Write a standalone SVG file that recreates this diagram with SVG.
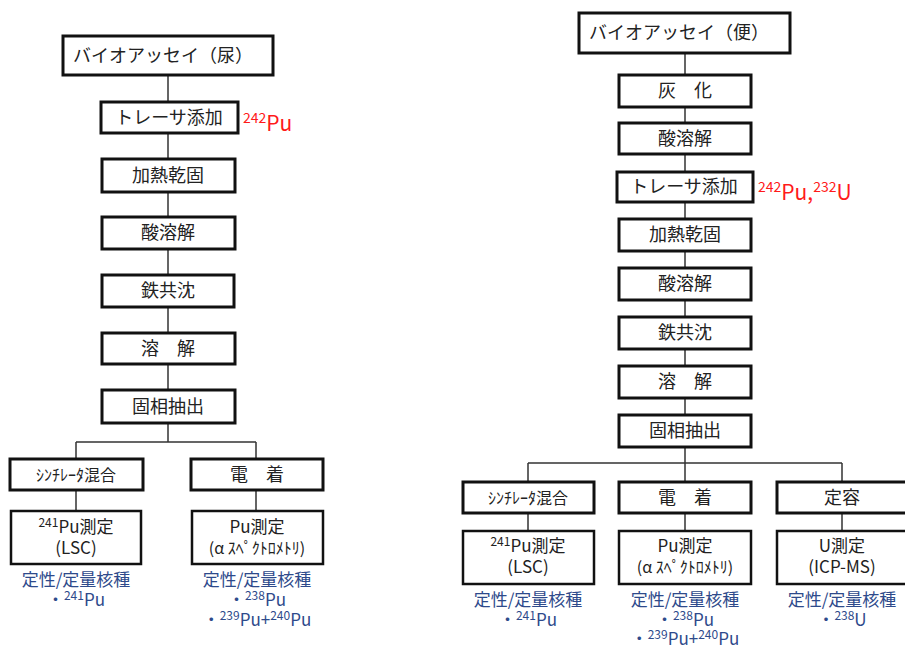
<svg xmlns="http://www.w3.org/2000/svg" width="905" height="648" viewBox="0 0 905 648">
<style>
text{font-family:"Noto Sans CJK JP","Noto Sans",sans-serif;}
.b{fill:#fff;stroke:#111;stroke-width:3;}
.m{fill:#fff;stroke:#111;stroke-width:2.5;}
.t{font-size:18px;fill:#222;text-anchor:middle;}
.s{font-size:17px;fill:#222;text-anchor:middle;}
.k{font-size:16px;fill:#222;text-anchor:middle;}
.q{font-size:17px;fill:#2E4A8B;text-anchor:middle;}
.r{font-size:21px;fill:#FF1A1A;}
.c{stroke:#333;stroke-width:1.5;fill:none;}
</style>
<rect width="905" height="648" fill="#fff"/>
<g id="connectors">
<path class="c" d="M168 75V442M76 442H256M76 442V511M256 442V511"/>
<path class="c" d="M685 53V463M528 463H842M528 463V531M685 463V531M842 463V531"/>
</g>
<!-- Left column -->
<g id="L1"><rect class="b" x="63" y="36" width="210" height="39"/><text class="t" x="163" y="62">バイオアッセイ（尿）</text></g>
<g id="L2"><rect class="b" x="101" y="102" width="137" height="31"/><text class="t" x="169" y="124">トレーサ添加</text></g>
<g id="L2lab"><text class="r" x="243" y="131"><tspan font-size="14" dy="-8">242</tspan><tspan dy="8">Pu</tspan></text></g>
<g id="L3"><rect class="b" x="102" y="159" width="133" height="33"/><text class="t" x="168" y="182">加熱乾固</text></g>
<g id="L4"><rect class="b" x="102" y="217" width="133" height="32"/><text class="t" x="168" y="239">酸溶解</text></g>
<g id="L5"><rect class="b" x="102" y="275" width="132" height="32"/><text class="t" x="168" y="297">鉄共沈</text></g>
<g id="L6"><rect class="b" x="102" y="333" width="133" height="31"/><text class="t" x="168" y="355">溶　解</text></g>
<g id="L7"><rect class="b" x="102" y="390" width="133" height="33"/><text class="t" x="168" y="413">固相抽出</text></g>
<g id="L8a"><rect class="b" x="10" y="459" width="133" height="31"/><text class="k" x="76" y="481">ｼﾝﾁﾚｰﾀ混合</text></g>
<g id="L8b"><rect class="b" x="191" y="459" width="132" height="31"/><text class="t" x="257" y="481">電　着</text></g>
<g id="L9a"><rect class="m" x="11" y="511" width="130" height="53"/><text class="s" x="76" y="533"><tspan font-size="12" dy="-6">241</tspan><tspan dy="6">Pu測定</tspan></text><text class="s" x="76" y="554">(LSC)</text></g>
<g id="L9b"><rect class="m" x="192" y="511" width="131" height="53"/><text class="s" x="257" y="533">Pu測定</text><text class="k" x="257" y="554">(α ｽﾍﾟｸﾄﾛﾒﾄﾘ)</text></g>
<g id="L10a"><text class="q" x="76" y="586">定性/定量核種</text><text class="q" x="76" y="606">・<tspan font-size="12" dy="-6">241</tspan><tspan dy="6">Pu</tspan></text></g>
<g id="L10b"><text class="q" x="257" y="586">定性/定量核種</text><text class="q" x="257" y="606">・<tspan font-size="12" dy="-6">238</tspan><tspan dy="6">Pu</tspan></text><text class="q" x="257" y="626">・<tspan font-size="12" dy="-6">239</tspan><tspan dy="6">Pu+</tspan><tspan font-size="12" dy="-6">240</tspan><tspan dy="6">Pu</tspan></text></g>
<!-- Right column -->
<g id="R1"><rect class="b" x="579" y="13" width="211" height="40"/><text class="t" x="679" y="39">バイオアッセイ（便）</text></g>
<g id="R2"><rect class="b" x="619" y="75" width="132" height="32"/><text class="t" x="685" y="97">灰　化</text></g>
<g id="R3"><rect class="b" x="619" y="123" width="132" height="31"/><text class="t" x="685" y="145">酸溶解</text></g>
<g id="R4"><rect class="b" x="617" y="172" width="136" height="30"/><text class="t" x="684" y="193">トレーサ添加</text></g>
<g id="R4lab"><text class="r" x="758" y="200"><tspan font-size="14" dy="-8">242</tspan><tspan dy="8">Pu,</tspan><tspan font-size="14" dy="-8">232</tspan><tspan dy="8">U</tspan></text></g>
<g id="R5"><rect class="b" x="619" y="219" width="132" height="32"/><text class="t" x="685" y="241">加熱乾固</text></g>
<g id="R6"><rect class="b" x="619" y="268" width="132" height="32"/><text class="t" x="685" y="290">酸溶解</text></g>
<g id="R7"><rect class="b" x="619" y="317" width="132" height="32"/><text class="t" x="685" y="339">鉄共沈</text></g>
<g id="R8"><rect class="b" x="619" y="366" width="132" height="32"/><text class="t" x="685" y="388">溶　解</text></g>
<g id="R9"><rect class="b" x="619" y="415" width="132" height="32"/><text class="t" x="685" y="437">固相抽出</text></g>
<g id="R10a"><rect class="b" x="463" y="482" width="131" height="31"/><text class="k" x="528" y="504">ｼﾝﾁﾚｰﾀ混合</text></g>
<g id="R10b"><rect class="b" x="619" y="482" width="132" height="31"/><text class="t" x="685" y="504">電　着</text></g>
<g id="R10c"><rect class="b" x="777" y="482" width="131" height="31"/><text class="t" x="842" y="504">定容</text></g>
<g id="R11a"><rect class="m" x="463" y="531" width="131" height="53"/><text class="s" x="528" y="552"><tspan font-size="12" dy="-6">241</tspan><tspan dy="6">Pu測定</tspan></text><text class="s" x="528" y="573">(LSC)</text></g>
<g id="R11b"><rect class="m" x="619" y="531" width="132" height="53"/><text class="s" x="685" y="552">Pu測定</text><text class="k" x="685" y="573">(α ｽﾍﾟｸﾄﾛﾒﾄﾘ)</text></g>
<g id="R11c"><rect class="m" x="777" y="531" width="131" height="53"/><text class="s" x="842" y="552">U測定</text><text class="s" x="842" y="573">(ICP-MS)</text></g>
<g id="R12a"><text class="q" x="528" y="606">定性/定量核種</text><text class="q" x="528" y="626">・<tspan font-size="12" dy="-6">241</tspan><tspan dy="6">Pu</tspan></text></g>
<g id="R12b"><text class="q" x="685" y="606">定性/定量核種</text><text class="q" x="685" y="626">・<tspan font-size="12" dy="-6">238</tspan><tspan dy="6">Pu</tspan></text><text class="q" x="685" y="645">・<tspan font-size="12" dy="-6">239</tspan><tspan dy="6">Pu+</tspan><tspan font-size="12" dy="-6">240</tspan><tspan dy="6">Pu</tspan></text></g>
<g id="R12c"><text class="q" x="842" y="606">定性/定量核種</text><text class="q" x="842" y="626">・<tspan font-size="12" dy="-6">238</tspan><tspan dy="6">U</tspan></text></g>
</svg>
